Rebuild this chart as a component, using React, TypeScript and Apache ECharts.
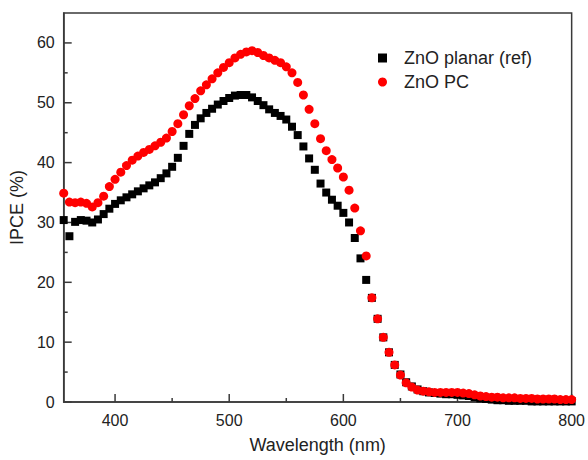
import React, { useEffect, useRef } from "react";
import * as echarts from "echarts";

const wavelengths = [
  355, 360, 365, 370, 375, 380, 385, 390, 395, 400, 405, 410, 415, 420, 425, 430, 435, 440, 445, 450,
  455, 460, 465, 470, 475, 480, 485, 490, 495, 500, 505, 510, 515, 520, 525, 530, 535, 540, 545, 550,
  555, 560, 565, 570, 575, 580, 585, 590, 595, 600, 605, 610, 615, 620, 625, 630, 635, 640, 645, 650,
  655, 660, 665, 670, 675, 680, 685, 690, 695, 700, 705, 710, 715, 720, 725, 730, 735, 740, 745, 750,
  755, 760, 765, 770, 775, 780, 785, 790, 795, 800,
];

const planarRef = [
  30.4, 27.7, 30.1, 30.4, 30.3, 30.0, 30.5, 31.4, 32.3, 33.1, 33.7, 34.2, 34.7, 35.2, 35.7, 36.2, 36.7, 37.4, 38.2, 39.3,
  40.8, 42.8, 44.8, 46.3, 47.4, 48.3, 49.0, 49.7, 50.3, 50.8, 51.2, 51.3, 51.3, 50.9, 50.3, 49.6, 48.9, 48.3, 47.8, 47.2,
  46.0, 44.6, 42.7, 40.7, 38.8, 36.5, 35.0, 33.8, 32.8, 31.6, 30.0, 27.4, 24.0, 20.4, 17.4, 13.9, 10.8, 8.3, 6.2, 4.6,
  3.3, 2.6, 2.1, 1.8, 1.6, 1.5, 1.4, 1.3, 1.3, 1.2, 1.1, 1.0, 0.8, 0.6, 0.5, 0.4, 0.3, 0.3, 0.2, 0.2,
  0.2, 0.2, 0.1, 0.1, 0.1, 0.1, 0.1, 0.1, 0.1, 0.1,
];

const znoPC = [
  34.9, 33.4, 33.3, 33.4, 33.2, 32.6, 33.3, 34.4, 36.0, 37.2, 38.4, 39.5, 40.4, 41.1, 41.7, 42.2, 42.8, 43.4, 44.1, 45.2,
  46.5, 48.0, 49.5, 50.7, 52.0, 53.0, 54.0, 55.0, 55.9, 56.7, 57.5, 58.1, 58.5, 58.7, 58.4, 57.9, 57.5, 57.1, 56.7, 56.0,
  55.0, 53.4, 51.3, 48.9, 46.5, 44.0, 42.0, 40.5, 39.1, 37.6, 35.4, 32.4, 28.6, 24.4, 17.4, 13.9, 10.8, 8.3, 6.2, 4.5,
  3.2, 2.5, 2.0, 1.8, 1.7, 1.6, 1.6, 1.6, 1.6, 1.6, 1.5, 1.4, 1.2, 1.0, 0.9, 0.8, 0.8, 0.7, 0.7, 0.7,
  0.6, 0.6, 0.6, 0.5, 0.5, 0.5, 0.5, 0.4, 0.4, 0.4,
];

const xMajorTicks = [400, 500, 600, 700, 800];
const xMinorTicks = [450, 550, 650, 750];
const yMajorTicks = [0, 10, 20, 30, 40, 50, 60];
const yMinorTicks = [5, 15, 25, 35, 45, 55];

const seriesNames = ["ZnO planar (ref)", "ZnO PC"];

export default function App() {
  const ref = useRef<HTMLDivElement>(null);
  useEffect(() => {
    if (!ref.current) return;
    const chart = echarts.init(ref.current, null, { renderer: "svg" });
    const font = "'Liberation Sans', Arial, sans-serif";
    const axisColor = "#3a3a3a";
    const xMin = 355, xMax = 800, yMin = 0, yMax = 65;
    const majorLen = 8, minorLen = 4;

    // tick marks, placed through the axes' own scales
    const tickData: any[] = [];
    xMajorTicks.forEach((v) => tickData.push([v, yMin, 0, majorLen]));
    xMinorTicks.forEach((v) => tickData.push([v, yMin, 0, minorLen]));
    yMajorTicks.forEach((v) => tickData.push([xMin, v, 1, majorLen]));
    yMinorTicks.forEach((v) => tickData.push([xMin, v, 1, minorLen]));

    chart.setOption({
      animation: false,
      backgroundColor: "#ffffff",
      textStyle: { fontFamily: font },
      grid: {
        left: 62, right: 15, top: 13, bottom: 58,
        show: true, borderColor: axisColor, borderWidth: 1.5, backgroundColor: "transparent",
      },
      legend: {
        orient: "vertical",
        left: 373, top: 44,
        itemWidth: 9, itemHeight: 9, itemGap: 6,
        data: [
          { name: seriesNames[0], icon: "rect" },
          { name: seriesNames[1], icon: "circle" },
        ],
        textStyle: { fontFamily: font, fontSize: 18, color: "#222", lineHeight: 18, padding: [0, 0, 0, 12] },
      },
      xAxis: {
        type: "value", min: xMin, max: xMax, splitNumber: 5,
        name: "Wavelength (nm)", nameLocation: "middle", nameGap: 34,
        nameTextStyle: { fontFamily: font, fontSize: 18, color: "#222" },
        axisLine: { show: true, onZero: false, lineStyle: { color: axisColor, width: 1.5 } },
        axisTick: { show: false },
        axisLabel: {
          show: true, margin: 10, fontSize: 16, color: "#222", fontFamily: font,
          showMinLabel: false,
          formatter: (v: number) => (xMajorTicks.indexOf(v) >= 0 ? String(v) : ""),
        },
        splitLine: { show: false },
      },
      yAxis: {
        type: "value", min: yMin, max: yMax, interval: 10,
        name: "IPCE (%)", nameLocation: "middle", nameGap: 32,
        nameTextStyle: { fontFamily: font, fontSize: 18, color: "#222" },
        axisLine: { show: true, onZero: false, lineStyle: { color: axisColor, width: 1.5 } },
        axisTick: { show: false },
        axisLabel: {
          show: true, margin: 9, fontSize: 16, color: "#222", fontFamily: font,
          showMaxLabel: false,
          formatter: (v: number) => (yMajorTicks.indexOf(v) >= 0 ? String(v) : ""),
        },
        splitLine: { show: false },
      },
      series: [
        {
          type: "custom",
          silent: true,
          clip: false,
          z: 1,
          data: tickData,
          encode: { x: 0, y: 1 },
          renderItem: (params: any, api: any) => {
            const p = api.coord([api.value(0), api.value(1)]);
            const dir = api.value(2);
            const len = api.value(3);
            const shape = dir === 0
              ? { x1: p[0], y1: p[1], x2: p[0], y2: p[1] - len }
              : { x1: p[0], y1: p[1], x2: p[0] + len, y2: p[1] };
            return { type: "line", shape, style: { stroke: axisColor, lineWidth: 1.5 } };
          },
        },
        {
          name: seriesNames[0], type: "scatter", symbol: "rect", symbolSize: 8,
          itemStyle: { color: "#000000", opacity: 1 },
          data: wavelengths.map((w, i) => [w, planarRef[i]]),
          z: 2,
        },
        {
          name: seriesNames[1], type: "scatter", symbol: "circle", symbolSize: 9,
          itemStyle: { color: "#ff0000", opacity: 1 },
          data: wavelengths.map((w, i) => [w, znoPC[i]]),
          z: 3,
        },
      ],
    });
    return () => chart.dispose();
  }, []);
  return <div ref={ref} style={{ width: 588, height: 460, position: "absolute", left: 0, top: 0 }} />;
}
